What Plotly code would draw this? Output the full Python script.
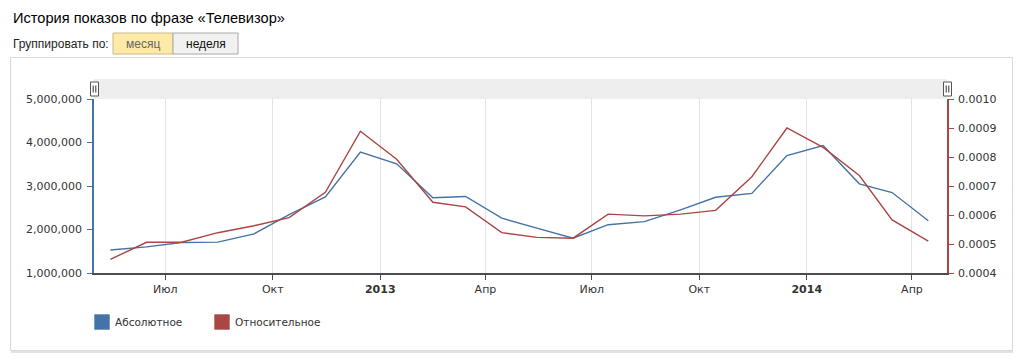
import plotly.graph_objects as go

# ---------------- data ----------------
months = ["2012-05-15", "2012-06-15", "2012-07-15", "2012-08-15", "2012-09-15", "2012-10-15",
          "2012-11-15", "2012-12-15", "2013-01-15", "2013-02-15", "2013-03-15", "2013-04-15",
          "2013-05-15", "2013-06-15", "2013-07-15", "2013-08-15", "2013-09-15", "2013-10-15",
          "2013-11-15", "2013-12-15", "2014-01-15", "2014-02-15", "2014-03-15", "2014-04-15"]
absolute = [1530000, 1600000, 1700000, 1710000, 1900000, 2340000,
            2750000, 3780000, 3510000, 2730000, 2760000, 2260000,
            2030000, 1800000, 2110000, 2180000, 2450000, 2740000,
            2830000, 3700000, 3930000, 3050000, 2850000, 2200000]
relative = [0.000447, 0.000506, 0.000506, 0.000539, 0.000563, 0.000591,
            0.000678, 0.000889, 0.000792, 0.000644, 0.000628, 0.000539,
            0.000523, 0.000520, 0.000603, 0.000597, 0.000603, 0.000616,
            0.000732, 0.000900, 0.000833, 0.000736, 0.000583, 0.000510]
series_names = ["Абсолютное", "Относительное"]
x_tickvals = ["2012-07-01", "2012-10-01", "2013-01-01", "2013-04-01",
              "2013-07-01", "2013-10-01", "2014-01-01", "2014-04-01"]
x_ticktext = ["Июл", "Окт", "<b>2013</b>", "Апр", "Июл", "Окт", "<b>2014</b>", "Апр"]
y1_ticks = [1000000, 2000000, 3000000, 4000000, 5000000]
y2_ticks = [0.0004, 0.0005, 0.0006, 0.0007, 0.0008, 0.0009, 0.0010]
title_text = "История показов по фразе «Телевизор»"
group_label = "Группировать по:"
buttons = ["месяц", "неделя"]

BLUE = "#4572A7"
RED = "#AA4643"
OFF = 8  # page body margin
W, H = 1024 - OFF, 359 - OFF
# plot area in screen pixels
L, R, T, B = 94, 947, 99, 273


def px(X):
    return (X - L) / (R - L)


def py(Y):
    return (B - Y) / (B - T)


fig = go.Figure()
fig.add_trace(go.Scatter(x=months, y=absolute, name=series_names[0], mode="lines",
                         line=dict(color=BLUE, width=1.4), yaxis="y"))
fig.add_trace(go.Scatter(x=months, y=relative, name=series_names[1], mode="lines",
                         line=dict(color=RED, width=1.4), yaxis="y2"))

tickfont = dict(family="DejaVu Sans", size=11, color="#333333")

shapes = []
annotations = []

# panel border
shapes.append(dict(type="rect", xref="paper", yref="paper", x0=px(10.5), x1=px(1012.5),
                   y0=py(350.5), y1=py(57.5), line=dict(color="#d9d9d9", width=1),
                   fillcolor="rgba(0,0,0,0)", layer="below"))
shapes.append(dict(type="line", xref="paper", yref="paper", x0=px(11), x1=px(1013),
                   y0=py(352), y1=py(352), line=dict(color="#e2e2e2", width=2)))
# navigator band
shapes.append(dict(type="rect", xref="paper", yref="paper", x0=0, x1=1,
                   y0=py(99), y1=py(79), line=dict(width=0), fillcolor="#eeeeee", layer="below"))
# handles
for hx in (94.5, 947.5):
    shapes.append(dict(type="rect", xref="paper", yref="paper", x0=px(hx - 4), x1=px(hx + 4),
                       y0=py(96), y1=py(82), line=dict(color="#555555", width=1),
                       fillcolor="#ffffff"))
    for dx in (-1.3, 1.3):
        shapes.append(dict(type="line", xref="paper", yref="paper", x0=px(hx + dx), x1=px(hx + dx),
                           y0=py(92.5), y1=py(85.5), line=dict(color="#333333", width=1)))

# buttons
shapes.append(dict(type="rect", xref="paper", yref="paper", x0=px(113), x1=px(173),
                   y0=py(54), y1=py(33), line=dict(color="#c9b98a", width=1), fillcolor="#fdeaa6"))
shapes.append(dict(type="rect", xref="paper", yref="paper", x0=px(173), x1=px(238),
                   y0=py(54), y1=py(33), line=dict(color="#a8a8a8", width=1), fillcolor="#f1f1f1"))
annotations.append(dict(text=buttons[0], xref="paper", yref="paper", x=px(143), y=py(44),
                        xanchor="center", yanchor="middle", showarrow=False,
                        font=dict(family="Liberation Sans", size=12, color="#666666")))
annotations.append(dict(text=buttons[1], xref="paper", yref="paper", x=px(205.5), y=py(44),
                        xanchor="center", yanchor="middle", showarrow=False,
                        font=dict(family="Liberation Sans", size=12, color="#111111")))

# title and label
annotations.append(dict(text=title_text, xref="paper", yref="paper", x=px(11), y=py(18),
                        xanchor="left", yanchor="middle", showarrow=False,
                        font=dict(family="Liberation Sans", size=14.6, color="#000000")))
annotations.append(dict(text=group_label, xref="paper", yref="paper", x=px(11), y=py(44),
                        xanchor="left", yanchor="middle", showarrow=False,
                        font=dict(family="Liberation Sans", size=12, color="#222222")))

# legend
for (sx, color, name) in ((94, BLUE, series_names[0]), (214, RED, series_names[1])):
    shapes.append(dict(type="rect", xref="paper", yref="paper", x0=px(sx), x1=px(sx + 16),
                       y0=py(330), y1=py(314), line=dict(color="rgba(255,255,255,0.6)", width=1),
                       fillcolor=color))
    annotations.append(dict(text=name, xref="paper", yref="paper", x=px(sx + 19), y=py(322),
                            xanchor="left", yanchor="middle", showarrow=False,
                            font=dict(family="DejaVu Sans", size=10.5, color="#333333")))

fig.update_layout(
    width=W, height=H,
    margin=dict(l=L - OFF, r=W - (R - OFF), t=T - OFF, b=H - (B - OFF), pad=0),
    paper_bgcolor="white", plot_bgcolor="white",
    showlegend=False,
    xaxis=dict(type="date", range=["2012-05-01", "2014-05-01"],
               tickvals=x_tickvals, ticktext=x_ticktext,
               showgrid=True, gridcolor="#e3e3e3", gridwidth=1,
               showline=True, linecolor="#4d4d4d", linewidth=1.5,
               ticks="outside", ticklen=5, tickcolor="#4d4d4d",
               tickfont=tickfont, zeroline=False),
    yaxis=dict(range=[1000000, 5000000], tickvals=y1_ticks, tickformat=",",
               showgrid=False, zeroline=False,
               showline=True, linecolor=BLUE, linewidth=1.5,
               ticks="outside", ticklen=5, tickcolor=BLUE,
               tickfont=tickfont, ticklabelstandoff=3),
    yaxis2=dict(range=[0.0004, 0.0010], tickvals=y2_ticks, tickformat=".4f",
                overlaying="y", side="right",
                showgrid=False, zeroline=False,
                showline=True, linecolor=RED, linewidth=1.5,
                ticks="outside", ticklen=5, tickcolor=RED,
                tickfont=tickfont, ticklabelstandoff=2),
    shapes=shapes,
    annotations=annotations,
)

fig.write_html("out.html")
